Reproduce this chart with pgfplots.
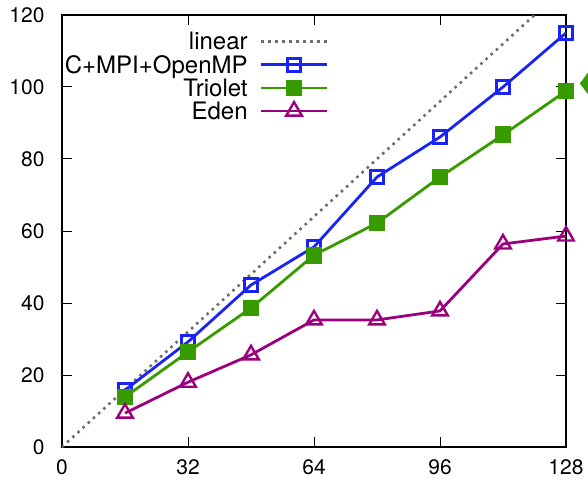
\documentclass[border=0pt]{standalone}
\usepackage{pgfplots}
\usepackage{fontspec}
\setmainfont{TeX Gyre Heros}
\pgfplotsset{compat=1.18}
\definecolor{gpblue}{RGB}{25,35,245}
\definecolor{gpgreen}{RGB}{55,155,0}
\definecolor{gppurple}{RGB}{155,0,125}
\definecolor{gpgray}{RGB}{110,110,110}

\begin{document}
\begin{tikzpicture}
\begin{axis}[
    scale only axis,
    width=504pt, height=432pt,
    xmin=0, xmax=128,
    ymin=0, ymax=120,
    xtick={0,32,64,96,128},
    ytick={0,20,40,60,80,100,120},
    tick align=inside,
    major tick length=10pt,
    axis line style={line width=1.3pt},
    every tick/.style={black, line width=1pt},
    tick label style={font=\fontsize{21}{24}\selectfont},
    /pgf/number format/assume math mode=true,
    xticklabel style={yshift=-9pt},
    yticklabel style={xshift=-14pt},
    legend style={at={(0.535,0.970)}, anchor=north east, draw=none, fill=none,
        font=\fontsize{24}{27}\selectfont, row sep=0pt,
        /tikz/every odd column/.append style={column sep=10pt}},
    legend plot pos=right,
    legend cell align=right,
    legend image code/.code={\draw[mark repeat=2,mark phase=2] plot coordinates {(0pt,0pt) (33pt,0pt) (66pt,0pt)};},
]
\addplot[color=gpgray, line width=2.6pt, dash pattern=on 2.6pt off 4.4pt] coordinates {
    (0,0) (128,128)
};
\addlegendentry{linear}

\addplot[color=gpblue, line width=2.8pt, mark=square, mark size=6.5pt, mark options={solid, line width=2.4pt}] coordinates {
    (16,15.8) (32,29.2) (48,45.0) (64,55.6) (80,75.0) (96,86.1) (112,100.0) (128,115.0)
};
\addlegendentry{C+MPI+OpenMP}

\addplot[color=gpgreen, line width=2.8pt, mark=square*, mark size=7pt, mark options={solid}] coordinates {
    (16,13.9) (32,26.4) (48,38.6) (64,53.3) (80,62.2) (96,75.0) (112,86.7) (128,98.9)
};
\addlegendentry{Triolet}

\addplot[color=gppurple, line width=2.8pt, mark=triangle, mark size=9pt, mark options={solid, line width=2.4pt}] coordinates {
    (16,9.4) (32,18.0) (48,25.6) (64,35.3) (80,35.3) (96,37.8) (112,56.4) (128,58.6)
};
\addlegendentry{Eden}

\addplot[color=gpgreen, only marks, mark=diamond*, mark size=10pt, clip=false, overlay, forget plot] coordinates {
    (133.5,101)
};
\end{axis}
\path ([shift={(-62pt,-38pt)}]current axis.south west) rectangle ([shift={(22pt,15pt)}]current axis.north east);
\end{tikzpicture}
\end{document}
